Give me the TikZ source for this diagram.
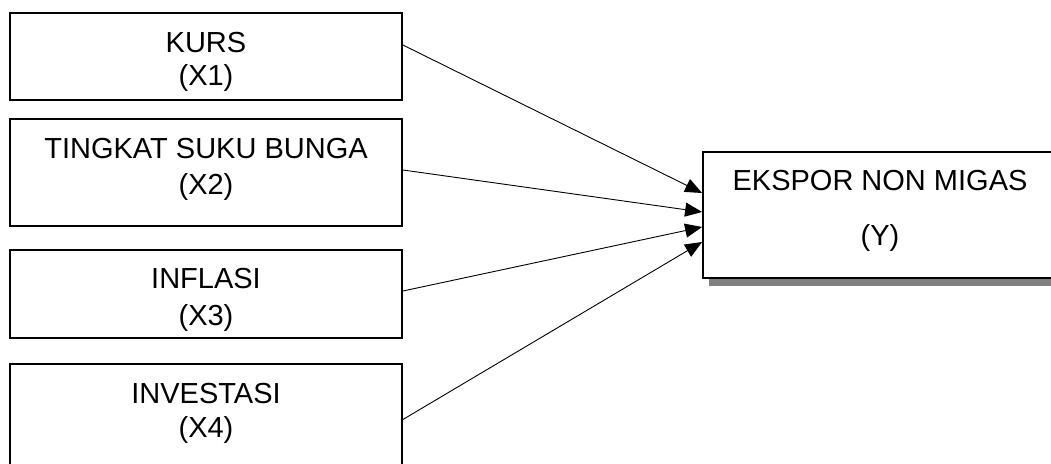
\documentclass[tikz,border=0pt]{standalone}
\usepackage{fontspec}
\setmainfont{Liberation Sans}
\usetikzlibrary{arrows.meta,backgrounds}
\begin{document}
\begin{tikzpicture}[x=1pt,y=-1pt,
  box/.style={draw, fill=white, line width=1.8pt, inner sep=0pt},
  lbl/.style={anchor=base, inner sep=0pt, font=\fontsize{29}{34}\selectfont},
  link/.style={line width=0.9pt, -{Triangle[length=17pt,width=14pt]}}]
\useasboundingbox (0,0) rectangle (1051,463);
\clip (0,0) rectangle (1051,463);

% independent variables
\node[box, minimum width=392pt, minimum height=87pt]  (b1) at (206,56.5)  {};
\node[box, minimum width=392pt, minimum height=107pt] (b2) at (206,172.5) {};
\node[box, minimum width=392pt, minimum height=88pt]  (b3) at (206,294)   {};
\node[box, minimum width=392pt, minimum height=111pt] (b4) at (206,419.5) {};

% dependent variable with its shadow
\node[box, minimum width=354pt, minimum height=126pt] (y) at (880,215) {};
\begin{pgfonlayer}{background}
  \fill[black!50] ([xshift=7pt,yshift=-7pt]y.south west) rectangle ([xshift=7pt,yshift=-7pt]y.north east);
\end{pgfonlayer}

% labels
\node[lbl] (t1a) at (206,52)  {KURS};
\node[lbl] (t1b) at (206,85)  {(X1)};
\node[lbl] (t2a) at (206,158) {TINGKAT SUKU BUNGA};
\node[lbl] (t2b) at (206,194) {(X2)};
\node[lbl] (t3a) at (206,288) {INFLASI};
\node[lbl] (t3b) at (206,325) {(X3)};
\node[lbl] (t4a) at (206,403) {INVESTASI};
\node[lbl] (t4b) at (206,437) {(X4)};
\node[lbl] (tya) at (880,190) {EKSPOR NON MIGAS};
\node[lbl] (tyb) at (880,245) {(Y)};

% influences
\draw[link] ([yshift=11.5pt]b1.east) -- ([yshift=22pt]y.west);
\draw[link] ([yshift=2.5pt]b2.east)  -- ([yshift=3pt]y.west);
\draw[link] ([yshift=3pt]b3.east)    -- ([yshift=-12pt]y.west);
\draw[link] (b4.east)                -- ([yshift=-27pt]y.west);
\end{tikzpicture}
\end{document}
